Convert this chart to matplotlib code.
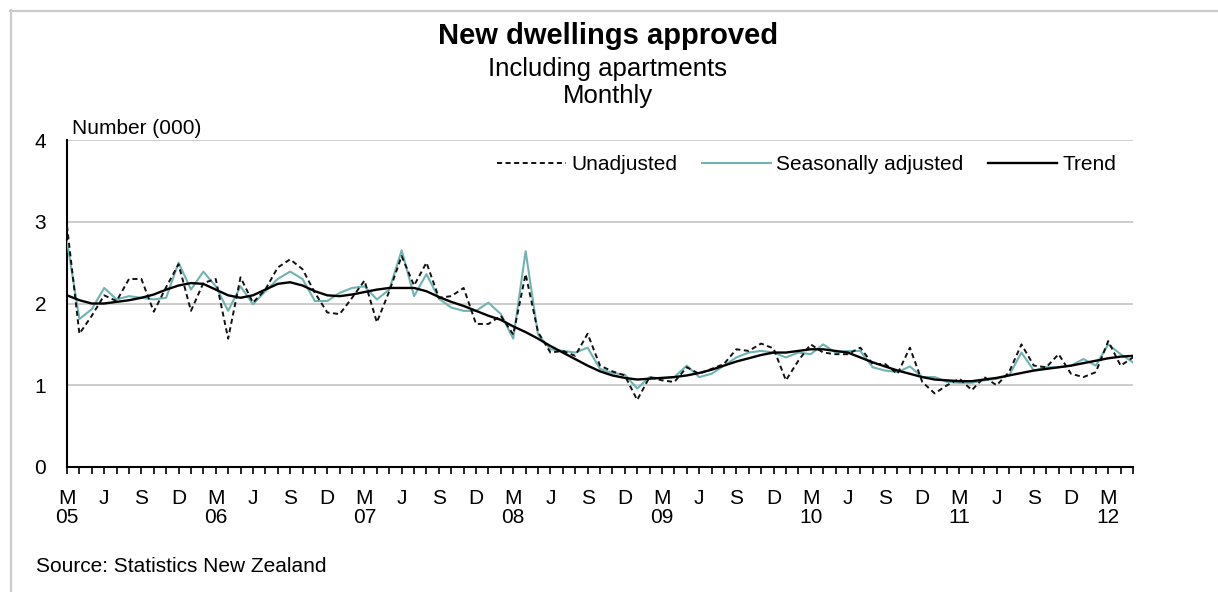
import matplotlib
matplotlib.use("Agg")
import matplotlib.pyplot as plt
from matplotlib.lines import Line2D

plt.rcParams['font.family'] = ['Liberation Sans', 'DejaVu Sans']

# monthly, March 2005 .. May 2012, thousands of dwellings
unadjusted = [
    2.95, 1.63, 1.85, 2.10, 2.03, 2.30, 2.30, 1.90, 2.20, 2.48,
    1.91, 2.25, 2.30, 1.57, 2.32, 2.01, 2.17, 2.44, 2.54, 2.42,
    2.13, 1.89, 1.87, 2.07, 2.28, 1.77, 2.15, 2.58, 2.22, 2.50,
    2.07, 2.09, 2.19, 1.75, 1.75, 1.85, 1.62, 2.36, 1.65, 1.40,
    1.42, 1.36, 1.63, 1.24, 1.17, 1.12, 0.82, 1.10, 1.06, 1.04,
    1.22, 1.14, 1.20, 1.26, 1.44, 1.42, 1.51, 1.45, 1.06, 1.30,
    1.50, 1.40, 1.38, 1.38, 1.46, 1.26, 1.26, 1.14, 1.46, 1.04,
    0.90, 1.00, 1.08, 0.94, 1.10, 1.00, 1.16, 1.50, 1.24, 1.22,
    1.38, 1.14, 1.10, 1.16, 1.54, 1.24, 1.34,
]
seas_adj = [
    2.76, 1.81, 1.93, 2.19, 2.05, 2.09, 2.07, 2.05, 2.07, 2.50,
    2.17, 2.39, 2.21, 1.91, 2.21, 1.99, 2.15, 2.30, 2.39, 2.30,
    2.03, 2.03, 2.13, 2.19, 2.21, 2.05, 2.17, 2.65, 2.09, 2.36,
    2.06, 1.95, 1.91, 1.91, 2.01, 1.87, 1.57, 2.64, 1.62, 1.44,
    1.42, 1.40, 1.46, 1.20, 1.15, 1.13, 0.96, 1.10, 1.08, 1.10,
    1.24, 1.10, 1.14, 1.24, 1.34, 1.40, 1.42, 1.40, 1.34, 1.40,
    1.38, 1.50, 1.40, 1.42, 1.42, 1.22, 1.18, 1.16, 1.23, 1.10,
    1.10, 1.04, 1.03, 1.03, 1.06, 1.08, 1.12, 1.40, 1.18, 1.22,
    1.22, 1.24, 1.32, 1.24, 1.50, 1.38, 1.28,
]
trend = [
    2.10, 2.04, 2.00, 2.00, 2.02, 2.04, 2.07, 2.11, 2.17, 2.22,
    2.25, 2.24, 2.17, 2.10, 2.07, 2.10, 2.17, 2.24, 2.26, 2.22,
    2.15, 2.10, 2.09, 2.11, 2.14, 2.17, 2.19, 2.19, 2.19, 2.15,
    2.08, 2.02, 1.97, 1.91, 1.85, 1.80, 1.72, 1.65, 1.57, 1.48,
    1.40, 1.32, 1.24, 1.17, 1.12, 1.09, 1.07, 1.08, 1.09, 1.10,
    1.12, 1.15, 1.19, 1.24, 1.29, 1.33, 1.37, 1.40, 1.40, 1.42,
    1.44, 1.44, 1.42, 1.40, 1.34, 1.28, 1.23, 1.18, 1.14, 1.10,
    1.07, 1.06, 1.05, 1.05, 1.07, 1.09, 1.12, 1.15, 1.18, 1.20,
    1.22, 1.24, 1.27, 1.30, 1.33, 1.35, 1.36,
]
quarter_letters = ['M', 'J', 'S', 'D']
first_year = 5
y_ticks = [0, 1, 2, 3, 4]

months = list(range(len(trend)))
tick_labels = []
for i in months:
    if i % 3:
        tick_labels.append('')
        continue
    letter = quarter_letters[(i // 3) % 4]
    if letter == 'M':
        tick_labels.append(f"{letter}\n{first_year + i // 12:02d}")
    else:
        tick_labels.append(letter)

fig = plt.figure(figsize=(12.18, 5.92), dpi=100)
ax = fig.add_axes([67 / 1218, 1 - 467 / 592, (1133 - 67) / 1218, 327 / 592])

ax.plot(months, seas_adj, color='#6fb3b3', lw=1.5, label='Seasonally adjusted', zorder=3)
ax.plot(months, unadjusted, color='#111111', lw=1.4, ls=(0, (2.6, 1.8)), label='Unadjusted', zorder=4)
ax.plot(months, trend, color='black', lw=1.7, label='Trend', zorder=5)

ax.set_xlim(0, months[-1])
ax.set_ylim(0, 4)
ax.set_yticks(y_ticks)
ax.set_yticklabels([str(v) for v in y_ticks])
ax.tick_params(axis='y', length=0, pad=15, labelsize=15)
ax.set_xticks(months)
ax.set_xticklabels(tick_labels)
ax.tick_params(axis='x', direction='out', length=5, width=1.2, pad=11, labelsize=15)
for lbl in ax.get_xticklabels():
    lbl.set_linespacing(0.98)
    lbl.set_verticalalignment('top')

ax.grid(axis='y', color='#c4c4c4', lw=1.2)
ax.set_axisbelow(True)
for side in ['top', 'right']:
    ax.spines[side].set_visible(False)
for side in ['left', 'bottom']:
    ax.spines[side].set_linewidth(1.5)

handles, labels = ax.get_legend_handles_labels()
order = [1, 0, 2]
ax.legend([handles[k] for k in order], [labels[k] for k in order],
          loc='center right', bbox_to_anchor=(0.984, 0.924), ncol=3,
          frameon=False, fontsize=15, handlelength=3.3, handletextpad=0.25,
          columnspacing=1.2, borderpad=0, borderaxespad=0)

fig.text(608 / 1218, 1 - 36 / 592, 'New dwellings approved', ha='center', va='center',
         fontsize=21, fontweight='bold')
fig.text(607 / 1218, 1 - 69 / 592, 'Including apartments', ha='center', va='center', fontsize=18.5)
fig.text(608 / 1218, 1 - 96 / 592, 'Monthly', ha='center', va='center', fontsize=18.5)
fig.text(72 / 1218, 1 - 128 / 592, 'Number (000)', ha='left', va='center', fontsize=15)
fig.text(36 / 1218, 1 - 566 / 592, 'Source: Statistics New Zealand', ha='left', va='center', fontsize=15)

# light frame along the top and left edges
fig.add_artist(Line2D([10 / 1218, 1], [1 - 10.5 / 592, 1 - 10.5 / 592],
                      transform=fig.transFigure, color='#cccccc', lw=1.6))
fig.add_artist(Line2D([10.5 / 1218, 10.5 / 1218], [0, 1 - 10 / 592],
                      transform=fig.transFigure, color='#cccccc', lw=1.6))

fig.savefig('out.png', dpi=100)
